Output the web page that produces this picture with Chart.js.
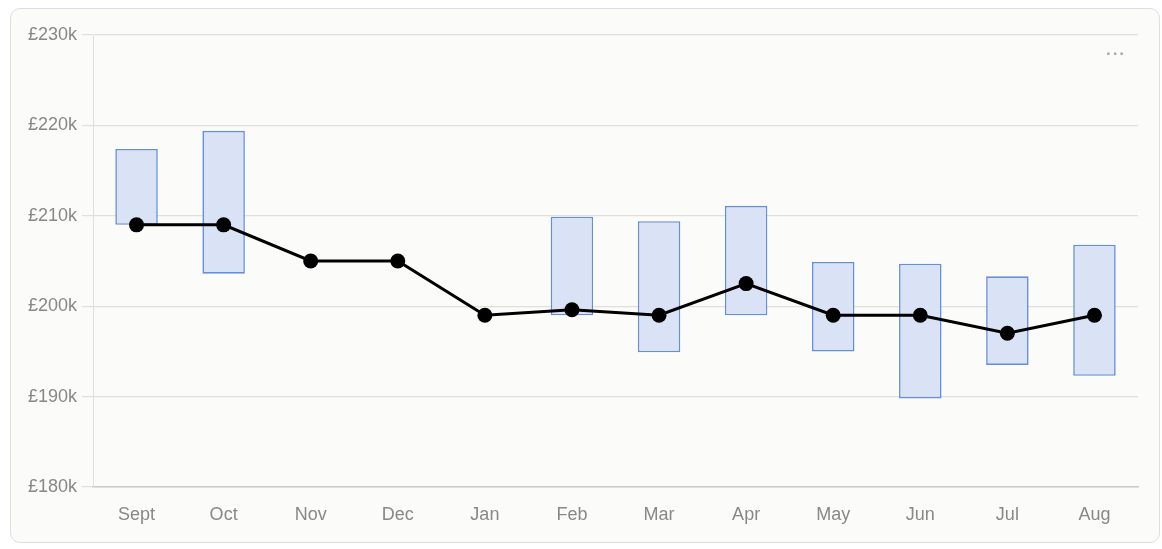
<!DOCTYPE html>
<html>
<head>
<meta charset="utf-8">
<script src="https://cdn.jsdelivr.net/npm/chart.js@4/dist/chart.umd.min.js"></script>
<style>
  html, body { margin:0; padding:0; background:#ffffff; width:1162px; height:549px; overflow:hidden; }
  #card { position:absolute; left:10px; top:8px; width:1150px; height:535px; background:#fbfbf9;
          border:1px solid #dededa; border-radius:10px; box-sizing:border-box; }
  #wrap { position:absolute; left:0; top:0; width:1162px; height:549px; }
  #dots { position:absolute; left:1106px; top:44px; color:#a8a8a8; font:bold 17px "Liberation Sans", Arial, sans-serif; letter-spacing:1px; }
</style>
</head>
<body>
<div id="card"></div>
<div id="wrap"><canvas id="c"></canvas></div>
<div id="dots">···</div>
<script>
const categories = ["Sept","Oct","Nov","Dec","Jan","Feb","Mar","Apr","May","Jun","Jul","Aug"];
const lineValues = [209, 209, 205, 205, 199, 199.6, 199, 202.5, 199, 199, 197, 199];
const rangeLow  = [209, 203.6, null, null, null, 199, 194.9, 199, 195, 189.8, 193.5, 192.3];
const rangeHigh = [217.4, 219.4, null, null, null, 209.9, 209.4, 211.1, 204.9, 204.7, 203.3, 206.8];
const yTicks = [180, 190, 200, 210, 220, 230];

const rangeData = rangeLow.map((lo, i) => (lo === null ? null : [lo, rangeHigh[i]]));
const FONT = "'Liberation Sans', Arial, sans-serif";

new Chart(document.getElementById('c'), {
  data: {
    labels: categories,
    datasets: [
      {
        type: 'line',
        data: lineValues,
        borderColor: '#000000',
        backgroundColor: '#000000',
        borderWidth: 3,
        pointRadius: 7.5,
        pointHoverRadius: 7.5,
        pointBackgroundColor: '#000000',
        pointBorderWidth: 0,
        tension: 0,
        order: 0
      },
      {
        type: 'bar',
        data: rangeData,
        backgroundColor: '#d9e3f5',
        borderColor: '#6690d6',
        borderWidth: 1.6,
        borderSkipped: false,
        barPercentage: 0.61,
        categoryPercentage: 0.8,
        order: 1
      }
    ]
  },
  options: {
    responsive: true,
    maintainAspectRatio: false,
    animation: false,
    layout: { padding: { left: 20, right: 24, top: 35, bottom: 0 } },
    plugins: { legend: { display: false }, tooltip: { enabled: false } },
    scales: {
      x: {
        grid: { display: false },
        border: { display: true, color: '#cbcbc4', width: 1.5 },
        ticks: { color: '#888888', font: { family: FONT, size: 18 }, padding: 9, maxRotation: 0 },
        afterFit: s => { s.height = 62; }
      },
      y: {
        min: 180, max: 230,
        afterBuildTicks: s => { s.ticks = yTicks.map(v => ({ value: v })); },
        grid: { color: '#e0e0d8', tickLength: 11, lineWidth: 1.2 },
        border: { display: true, color: '#e0e0d8' },
        ticks: {
          color: '#888888', font: { family: FONT, size: 18 }, padding: 5,
          callback: v => '£' + v + 'k'
        },
        afterFit: s => { s.width = 73; }
      }
    }
  }
});
</script>
</body>
</html>
